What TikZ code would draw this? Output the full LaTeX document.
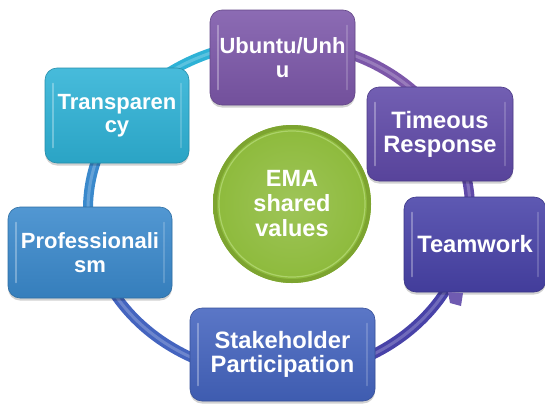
\documentclass[tikz,border=0pt]{standalone}
\usepackage{fontspec}
\setmainfont{Liberation Sans}
\usetikzlibrary{shadows}

% palette of the six values and the hub
\definecolor{cUbuntu}{HTML}{7C57A9}
\definecolor{cTimeous}{HTML}{5F49A8}
\definecolor{cTeam}{HTML}{4842A8}
\definecolor{cStake}{HTML}{4464BF}
\definecolor{cProf}{HTML}{3A89CC}
\definecolor{cTrans}{HTML}{2EB2D6}
\definecolor{cHub}{HTML}{8DBA3B}
\definecolor{cHubRim}{HTML}{7DA430}
\definecolor{cHubGlow}{HTML}{B4D874}

\tikzset{
  valuebox/.style={
    rounded corners=12pt, draw=#1!80!black, line width=0.6pt,
    top color=#1!88!white, bottom color=#1!92!black,
    text=white, align=center, inner sep=0pt,
    font=\fontsize{23.7}{24}\selectfont\bfseries,
    drop shadow={shadow xshift=0pt, shadow yshift=-2.5pt, opacity=0.18, fill=black}},
  shrunk/.style={font=\fontsize{22}{23.5}\selectfont\bfseries},
  gloss/.style={line width=2.2pt, line cap=round, white, opacity=0.30},
  ringband/.style={line width=10pt},
  ringshine/.style={line width=3pt, white, opacity=0.22},
  hub/.style={circle, inner sep=0pt, minimum size=158pt,
    shading=radial, inner color=cHub!85!white, outer color=cHub,
    text=white, align=center, font=\fontsize{23.5}{25}\selectfont\bfseries},
}

\begin{document}
\begin{tikzpicture}[x=1pt, y=-1pt]
\useasboundingbox (0,0) rectangle (545,407);
\begin{scope}
\clip (0,0) rectangle (545,407);

% the cycle ring, one coloured arc per value (clockwise)
\foreach \a/\b/\c in {89/28/cUbuntu, 28/-12/cTimeous, -12/-90/cTeam,
                      270/195/cStake, 195/146/cProf, 146/89/cTrans}{
  \draw[ringband, draw=\c]
    plot[domain=\a:\b, samples=50] ({279+191*cos(\x)},{209-167*sin(\x)});
  \draw[ringshine]
    plot[domain=\a:\b, samples=50] ({279+191*cos(\x)},{209-167*sin(\x)});
}

% central hub
\node[hub] (hub) at (292,204) {EMA\\shared\\values};
\draw[cHubRim, line width=4pt] (hub.center) circle[radius=77pt];
\draw[cHubGlow, line width=1.2pt, opacity=0.8] (hub.center) circle[radius=73pt];

% value boxes
\node[valuebox=cUbuntu, shrunk, minimum width=145pt, minimum height=95pt] (ubuntu) at (282.5,57.5) {Ubuntu/Unh\\u};
\node[valuebox=cTimeous, minimum width=146pt, minimum height=94pt] (timeous) at (440,134) {Timeous\\Response};
\node[valuebox=cTeam,    minimum width=142pt, minimum height=95pt] (team) at (475,244.5) {Teamwork};
\node[valuebox=cStake,   minimum width=185pt, minimum height=93pt] (stake) at (282.5,354.5) {Stakeholder\\Participation};
\node[valuebox=cProf, shrunk, minimum width=164pt, minimum height=91pt] (prof) at (90,252.5) {Professionali\\sm};
\node[valuebox=cTrans, shrunk, minimum width=144pt, minimum height=95pt] (trans) at (117,115.5) {Transparen\\cy};

% arrow barb of the ring peeking out below Teamwork
\fill[cTimeous!90!white] (448,292) -- (463,293) -- (461,306) -- (450,303) -- cycle;

% glossy edge highlights on every box
\foreach \n in {ubuntu,timeous,team,stake,prof,trans}{
  \draw[gloss] ([xshift=8pt,yshift=-16pt]\n.north west) -- ([xshift=8pt,yshift=16pt]\n.south west);
  \draw[gloss, opacity=0.18] ([xshift=-8pt,yshift=-16pt]\n.north east) -- ([xshift=-8pt,yshift=16pt]\n.south east);
}
\end{scope}
\end{tikzpicture}
\end{document}
